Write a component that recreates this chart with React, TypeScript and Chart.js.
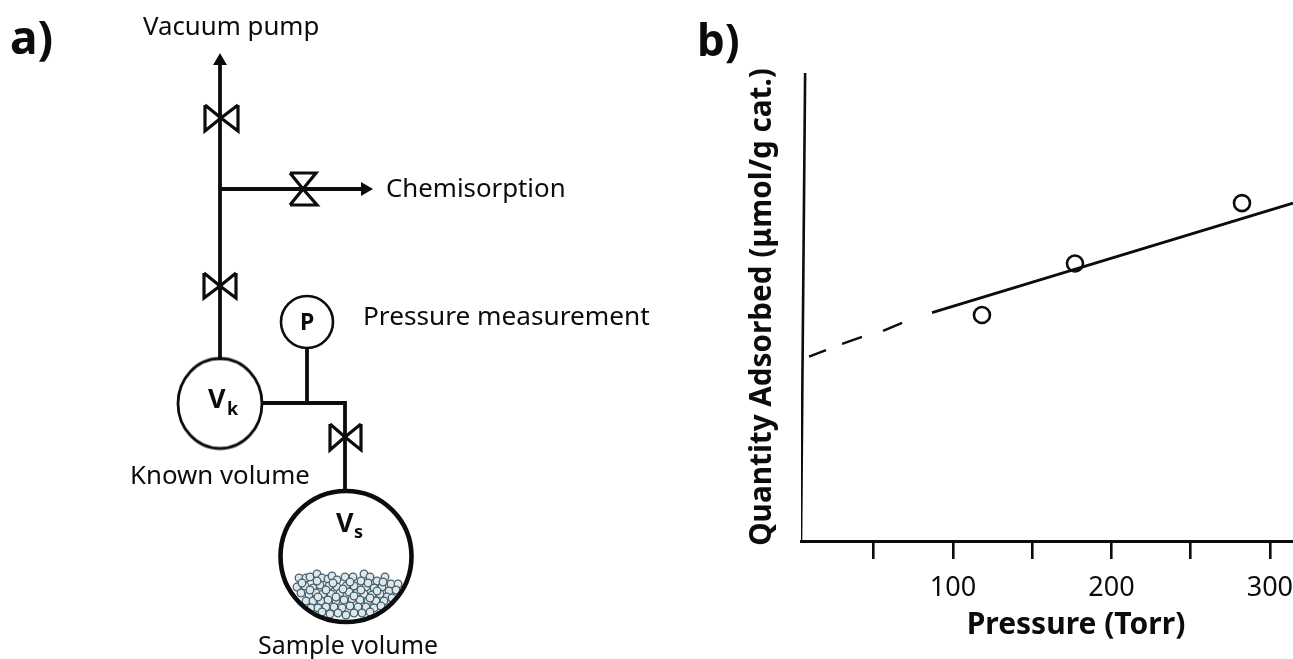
import React, { useEffect, useRef } from "react";
import { Chart, registerables } from "chart.js";

Chart.register(...registerables);

const INK = "#0c0c0c";
const SANS = '"Noto Sans", sans-serif';

// ---------- panel b ----------
const pressureTicks = ["100", "200", "300"];
const measuredPressure = [118.3, 177, 282.4];
const measuredQuantity = [48.3, 59.3, 72.2];
const fitPressure = [86.8, 314.6];
const fitQuantity = [48.8, 72.2];
const extrapPressure = [9.2, 19.9, null, 30.0, 42.6, null, 55.9, 67.9];
const extrapQuantity = [39.4, 40.8, null, 42.1, 43.6, null, 44.9, 46.6];
const yAxisPressure = [6.7, 4.1];
const yAxisQuantity = [100, 0];
const xTitle = "Pressure (Torr)";
const yTitle = "Quantity Adsorbed (μmol/g cat.)";

// ---------- panel a ----------
const pipeX = [220, 220, null, 220, 362, null, 307, 307, null, 263, 345, 345];
const pipeY = [360, 62, null, 189, 189, null, 349, 403, null, 403, 403, 490];
const valveX = [
  205, 221, 205, 205, null, 238, 221, 238, 238, null,
  204, 220, 204, 204, null, 236, 220, 236, 236, null,
  330, 345, 330, 330, null, 361, 345, 361, 361, null,
  290, 316, 303, 290, null, 290, 317, 303, 290,
];
const valveY = [
  105, 118, 131, 105, null, 105, 118, 131, 105, null,
  273, 286, 298, 273, null, 273, 286, 298, 273, null,
  424, 437, 450, 424, null, 424, 437, 450, 424, null,
  173, 173, 189, 173, null, 205, 205, 189, 205,
];
const arrowX = [220, 365];
const arrowY = [61, 189];
const arrowRotation = [0, 90];
const gaugeX = [307];
const gaugeY = [322];
const knownX = [220];
const knownY = [403.5];
const sampleX = [346];
const sampleY = [556.5];
const grainX = [
  299, 306, 310, 317, 322, 328, 332, 337, 345, 353, 364, 361, 370, 377, 385, 391, 398,
  297, 305, 313, 320, 329, 337, 346, 354, 366, 374, 382, 389, 396,
  301, 309, 316, 323, 331, 340, 349, 357, 364, 372, 380, 387,
  306, 313, 321, 328, 336, 344, 352, 360, 368, 376, 384, 392,
  311, 318, 326, 334, 342, 350, 358, 366, 374, 381,
  322, 330, 338, 346, 354, 362, 370,
  302, 317, 333, 350, 368, 383, 310, 326, 343, 361, 377, 318, 336, 354, 370,
];
const grainY = [
  578, 578, 577, 574, 578, 579, 576, 580, 577, 577, 574, 581, 577, 581, 577, 584, 584,
  587, 586, 588, 585, 586, 587, 586, 586, 587, 588, 587, 591, 590,
  593, 595, 593, 594, 594, 593, 592, 593, 594, 595, 594, 597,
  601, 601, 601, 600, 601, 600, 599, 600, 601, 601, 601, 598,
  608, 608, 607, 607, 608, 606, 607, 607, 608, 606,
  612, 614, 613, 615, 613, 613, 612,
  583, 581, 583, 582, 583, 582, 590, 590, 589, 590, 591, 597, 597, 596, 598,
];
const labelTexts = [
  "a)", "b)", "Vacuum pump", "Chemisorption", "Pressure measurement",
  "Known volume", "Sample volume", "P", "V", "k", "V", "s",
];
const labelX = [10, 697, 143, 386, 363, 130, 258, 300, 208, 227, 336, 354];
const labelY = [54, 56, 35, 197, 325, 484, 654, 330, 408, 415, 532, 538];
const labelSizes = [46, 44, 25.8, 25.8, 26.2, 25.8, 24.9, 23, 27, 18, 27, 18];
const labelBold = [true, true, false, false, false, false, false, true, true, true, true, true];

const pts = (xs: (number | null)[], ys: (number | null)[]) => xs.map((x, i) => ({ x, y: ys[i] }));

function ellipseStyle(rx: number, ry: number, lw: number) {
  const c = document.createElement("canvas");
  c.width = Math.ceil(2 * rx + 2 * lw);
  c.height = Math.ceil(2 * ry + 2 * lw);
  const g = c.getContext("2d")!;
  g.strokeStyle = INK;
  g.lineWidth = lw;
  g.beginPath();
  g.ellipse(c.width / 2, c.height / 2, rx, ry, 0, 0, Math.PI * 2);
  g.stroke();
  return c;
}

const labelPlugin = {
  id: "schemeLabels",
  afterDatasetsDraw(chart: any) {
    const { ctx, scales } = chart;
    ctx.save();
    ctx.fillStyle = INK;
    ctx.textAlign = "left";
    ctx.textBaseline = "alphabetic";
    labelTexts.forEach((t, i) => {
      ctx.font = `${labelBold[i] ? "bold " : ""}${labelSizes[i]}px ${SANS}`;
      ctx.fillText(t, scales.x.getPixelForValue(labelX[i]), scales.y.getPixelForValue(labelY[i]));
    });
    ctx.restore();
  },
};

const SCHEME_W = 760;
const H = 659;
const PLOT_W = 661;

export default function App() {
  const schemeRef = useRef<HTMLCanvasElement>(null);
  const plotRef = useRef<HTMLCanvasElement>(null);

  useEffect(() => {
    const line = (xs: any[], ys: any[], width: number) => ({
      data: pts(xs, ys),
      borderColor: INK,
      borderWidth: width,
      pointRadius: 0,
      spanGaps: false,
      borderJoinStyle: "miter",
      showLine: true,
    });
    const dots = (xs: number[], ys: number[], radius: number, width: number, extra: any = {}) => ({
      data: pts(xs, ys),
      showLine: false,
      pointRadius: radius,
      pointBorderWidth: width,
      pointBorderColor: INK,
      pointBackgroundColor: "rgba(0,0,0,0)",
      ...extra,
    });

    const scheme = new Chart(schemeRef.current!, {
      type: "line",
      data: {
        datasets: [
          dots(arrowX, arrowY, 8, 0, { pointStyle: "triangle", pointRotation: arrowRotation, pointBackgroundColor: INK }),
          dots(sampleX, sampleY, 65.5, 4.6),
          dots(grainX, grainY, 3.8, 1.3, { pointBorderColor: "#3f6271", pointBackgroundColor: "#e2e6e8" }),
          dots(gaugeX, gaugeY, 26, 2.6),
          dots(knownX, knownY, 44, 0, { pointStyle: ellipseStyle(42, 45, 2.8) }),
          line(valveX, valveY, 3.2),
          line(pipeX, pipeY, 3.8),
        ] as any,
      },
      options: {
        animation: false,
        responsive: false,
        events: [],
        layout: { padding: 0, autoPadding: false },
        plugins: { legend: { display: false }, tooltip: { enabled: false } },
        scales: {
          x: { type: "linear", display: false, min: 0, max: SCHEME_W },
          y: { type: "linear", display: false, min: 0, max: H, reverse: true },
        },
      },
      plugins: [labelPlugin],
    } as any);

    const plot = new Chart(plotRef.current!, {
      type: "line",
      data: {
        datasets: [
          dots(measuredPressure, measuredQuantity, 8, 2.6),
          line(fitPressure, fitQuantity, 2.8),
          line(extrapPressure, extrapQuantity, 2.4),
          line(yAxisPressure, yAxisQuantity, 2.6),
        ] as any,
      },
      options: {
        animation: false,
        responsive: false,
        events: [],
        layout: { padding: { top: 73, left: 0, right: 0, bottom: 0 }, autoPadding: false },
        plugins: { legend: { display: false }, tooltip: { enabled: false } },
        scales: {
          x: {
            type: "linear",
            min: 4.1,
            max: 351.2,
            afterFit: (s: any) => {
              s.height = 118;
              s.paddingLeft = 0;
              s.paddingRight = 0;
            },
            grid: { drawOnChartArea: false, drawTicks: true, tickLength: 18, color: INK, lineWidth: 2.6 },
            border: { display: true, color: INK, width: 3 },
            ticks: {
              stepSize: 50,
              includeBounds: false,
              autoSkip: false,
              maxRotation: 0,
              padding: 13,
              color: INK,
              font: { size: 27, family: SANS },
              callback: (v: any) => (pressureTicks.includes(String(v)) ? String(v) : ""),
            },
            title: {
              display: true,
              text: xTitle,
              color: INK,
              font: { size: 30, weight: "bold", family: SANS },
              padding: { top: 0, bottom: 16 },
            },
          },
          y: {
            type: "linear",
            min: 0,
            max: 100,
            afterFit: (s: any) => {
              s.width = 111;
            },
            grid: { display: false },
            border: { display: false },
            ticks: { display: false },
            title: {
              display: true,
              text: yTitle,
              color: INK,
              font: { size: 29.7, weight: "bold", family: SANS },
              padding: { top: 55, bottom: 0 },
            },
          },
        },
      },
    } as any);

    return () => {
      scheme.destroy();
      plot.destroy();
    };
  }, []);

  return (
    <div style={{ position: "absolute", left: 0, top: 0, width: 1293, height: H, overflow: "hidden", background: "#fff" }}>
      <canvas ref={schemeRef} width={SCHEME_W} height={H} style={{ position: "absolute", left: 0, top: 0 }} />
      <canvas ref={plotRef} width={PLOT_W} height={H} style={{ position: "absolute", left: 690, top: 0 }} />
    </div>
  );
}
